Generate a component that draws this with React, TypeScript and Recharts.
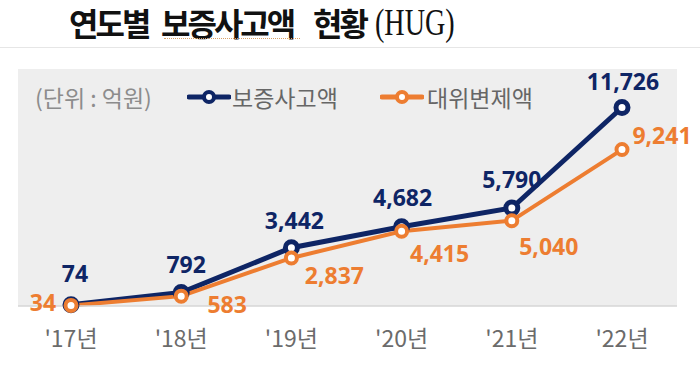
import React from "react";
import { LineChart, Line, XAxis, YAxis, CartesianGrid, LabelList } from "recharts";

const years = ["'17년", "'18년", "'19년", "'20년", "'21년", "'22년"];
const accidentAmounts = [74, 792, 3442, 4682, 5790, 11726];
const subrogationAmounts = [34, 583, 2837, 4415, 5040, 9241];

const NAVY = "#0e2565";
const ORANGE = "#ed7d31";
const KR_FONT = "'Noto Sans CJK KR', 'Noto Sans', sans-serif";

const data = years.map((year, i) => ({
  year,
  accident: accidentAmounts[i],
  subrogation: subrogationAmounts[i],
}));

// label offsets relative to each point (text centre)
const navyOffsets = [[4, -32], [5, -29], [3, -28], [1, -30], [0, -29], [1, -26]];
const orangeOffsets = [[-28, -3], [46, 8], [43, 17], [38, 22], [37, 25], [40, -15]];

const makeLabel = (color: string, offsets: number[][]) => (props: any) => {
  const { x, y, value, index } = props;
  const [dx, dy] = offsets[index] || [0, -20];
  return (
    <text
      x={x + dx}
      y={y + dy}
      textAnchor="middle"
      dominantBaseline="central"
      fill={color}
      fontSize={23}
      fontWeight={700}
      fontFamily="'Noto Sans', sans-serif"
    >
      {Number(value).toLocaleString("en-US")}
    </text>
  );
};

const YearTick = (props: any) => {
  const { x, y, payload } = props;
  return (
    <text x={x} y={y + 33} textAnchor="middle" fill="#6b6b6b" fontSize={23} fontFamily={KR_FONT}>
      {payload.value}
    </text>
  );
};

const LegendIcon = ({ color, left }: { color: string; left: number }) => (
  <svg width={44} height={16} style={{ position: "absolute", left, top: 89 }}>
    <line x1={2} y1={8} x2={42} y2={8} stroke={color} strokeWidth={5} strokeLinecap="round" />
    <circle cx={22} cy={8} r={5} fill="#fff" stroke={color} strokeWidth={4} />
  </svg>
);

const legendText = (left: number, color: string): React.CSSProperties => ({
  position: "absolute",
  left,
  top: 97,
  transform: "translateY(-50%)",
  fontFamily: KR_FONT,
  fontSize: 23,
  color,
  whiteSpace: "nowrap",
  lineHeight: 1.4,
});

const titleWord = (left: number): React.CSSProperties => ({
  position: "absolute",
  left,
  top: 3,
  fontFamily: KR_FONT,
  fontWeight: 700,
  fontSize: 32,
  letterSpacing: -3,
  lineHeight: "38px",
  color: "#111",
  whiteSpace: "nowrap",
});

export default function App() {
  return (
    <div style={{ position: "absolute", left: 0, top: 0, width: 700, height: 373, background: "#fff", overflow: "hidden" }}>
      <div style={{ position: "absolute", left: 0, top: 0 }}>
        <LineChart width={700} height={373} data={data} margin={{ top: 69, right: 23, left: 18, bottom: 20 }}>
          <CartesianGrid fill="#eeeeee" horizontal={false} vertical={false} />
          <XAxis
            dataKey="year"
            height={47}
            padding={{ left: 53, right: 55 }}
            axisLine={{ stroke: "#d6d6d6", strokeWidth: 1.5 }}
            tickLine={false}
            tick={<YearTick />}
            interval={0}
          />
          <YAxis hide domain={[0, 14000]} />
          <Line
            dataKey="accident"
            stroke={NAVY}
            strokeWidth={5}
            dot={{ r: 6, fill: "#fff", stroke: NAVY, strokeWidth: 5 }}
            isAnimationActive={false}
          >
            <LabelList dataKey="accident" content={makeLabel(NAVY, navyOffsets)} />
          </Line>
          <Line
            dataKey="subrogation"
            stroke={ORANGE}
            strokeWidth={4}
            dot={{ r: 5.5, fill: "#fff", stroke: ORANGE, strokeWidth: 4 }}
            isAnimationActive={false}
          >
            <LabelList dataKey="subrogation" content={makeLabel(ORANGE, orangeOffsets)} />
          </Line>
        </LineChart>
      </div>

      {/* title */}
      <div style={{ position: "absolute", left: 0, top: 47, width: 700, height: 1, background: "#e6e6e6" }} />
      <span style={titleWord(69)}>연도별</span>
      <span style={titleWord(161)}>보증사고액</span>
      <span style={titleWord(313)}>현황</span>
      <div style={{ position: "absolute", left: 164, top: 38, width: 136, borderBottom: "1px dotted #d9a066" }} />
      <span
        style={{
          position: "absolute",
          left: 375,
          top: 23,
          transform: "translateY(-50%) scaleX(0.74)",
          transformOrigin: "left center",
          fontFamily: "'Liberation Serif', serif",
          fontSize: 38,
          lineHeight: 1.2,
          color: "#111",
          whiteSpace: "nowrap",
        }}
      >
        (HUG)
      </span>

      {/* legend */}
      <span style={legendText(35, "#8c8c8c")}>(단위 : 억원)</span>
      <LegendIcon color={NAVY} left={187} />
      <span style={legendText(232, "#666")}>보증사고액</span>
      <LegendIcon color={ORANGE} left={380} />
      <span style={legendText(427, "#666")}>대위변제액</span>
    </div>
  );
}
